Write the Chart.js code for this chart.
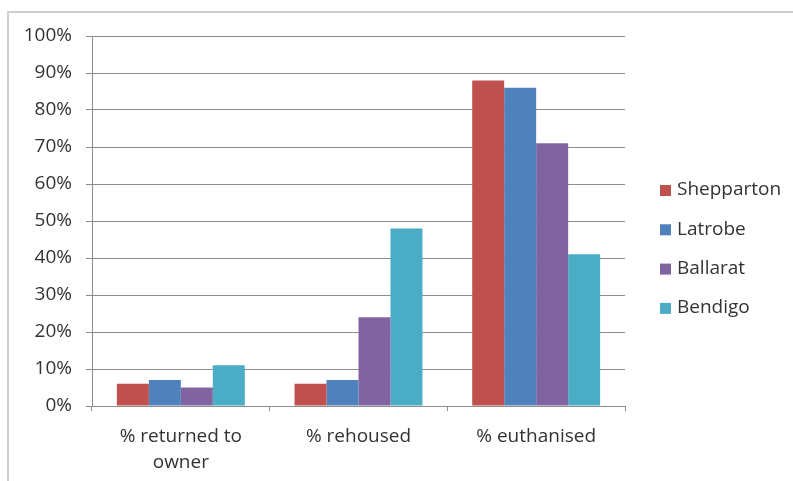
<!DOCTYPE html>
<html>
<head>
<meta charset="utf-8">
<script src="https://cdn.jsdelivr.net/npm/chart.js@4"></script>
<style>
  html, body { margin: 0; padding: 0; background: #fff; }
  #wrap { position: relative; width: 793px; height: 481px; overflow: hidden; }
  #frame { position: absolute; left: 7px; top: 11px; width: 800px; height: 480px;
           border-top: 2px solid #cfcfcf; border-left: 2px solid #cfcfcf; }
  canvas { position: absolute; left: 0; top: 0; }
</style>
</head>
<body>
<div id="wrap">
  <div id="frame"></div>
  <canvas id="chart" width="793" height="481"></canvas>
</div>
<script>
// Outcomes by region (percent of animals)
const categories = [['% returned to', 'owner'], '% rehoused', '% euthanised'];
const shepparton = [6, 6, 88];
const latrobe    = [7, 7, 86];
const ballarat   = [5, 24, 71];
const bendigo    = [11, 48, 41];
const seriesNames  = ['Shepparton', 'Latrobe', 'Ballarat', 'Bendigo'];
const seriesColors = ['#C0504D', '#4F81BD', '#8064A2', '#4BACC6'];

const textColor = '#333333';
const lineColor = '#8c8c8c';
const FONT = "'Open Sans', 'Noto Sans', sans-serif";

// legend drawn by hand so the plot area can keep a fixed right edge
const sideLegend = {
  id: 'sideLegend',
  afterDraw(chart) {
    const ctx = chart.ctx;
    ctx.save();
    ctx.font = `19px ${FONT}`;
    ctx.textBaseline = 'middle';
    ctx.textAlign = 'left';
    chart.data.datasets.forEach((ds, i) => {
      const y = 190 + i * 39.3;
      ctx.fillStyle = ds.backgroundColor;
      ctx.fillRect(660, y - 5, 11, 11);
      ctx.fillStyle = textColor;
      ctx.fillText(ds.label, 677, y);
    });
    ctx.restore();
  }
};

const values = [shepparton, latrobe, ballarat, bendigo];

new Chart(document.getElementById('chart'), {
  type: 'bar',
  data: {
    labels: categories,
    datasets: seriesNames.map((name, i) => ({
      label: name,
      data: values[i],
      backgroundColor: seriesColors[i],
      borderWidth: 0,
      categoryPercentage: 0.72,
      barPercentage: 1.0
    }))
  },
  options: {
    responsive: false,
    animation: false,
    layout: { padding: { left: 15, right: 168, top: 36, bottom: 0 } },
    plugins: { legend: { display: false }, tooltip: { enabled: false } },
    scales: {
      x: {
        grid: { offset: true, drawOnChartArea: false, drawTicks: true, tickLength: 5, color: lineColor },
        border: { color: lineColor, width: 1 },
        ticks: { color: textColor, padding: 12, maxRotation: 0, font: { family: FONT, size: 19, lineHeight: 1.38 } },
        afterFit: s => { s.height = 75; }
      },
      y: {
        min: 0, max: 100,
        grid: { color: lineColor, tickLength: 6, lineWidth: 1 },
        border: { color: lineColor, width: 1 },
        ticks: { stepSize: 10, color: textColor, padding: 14, callback: v => v + '%',
                 font: { family: FONT, size: 19 } },
        afterFit: s => { s.width = 77; }
      }
    }
  },
  plugins: [sideLegend]
});
</script>
</body>
</html>
